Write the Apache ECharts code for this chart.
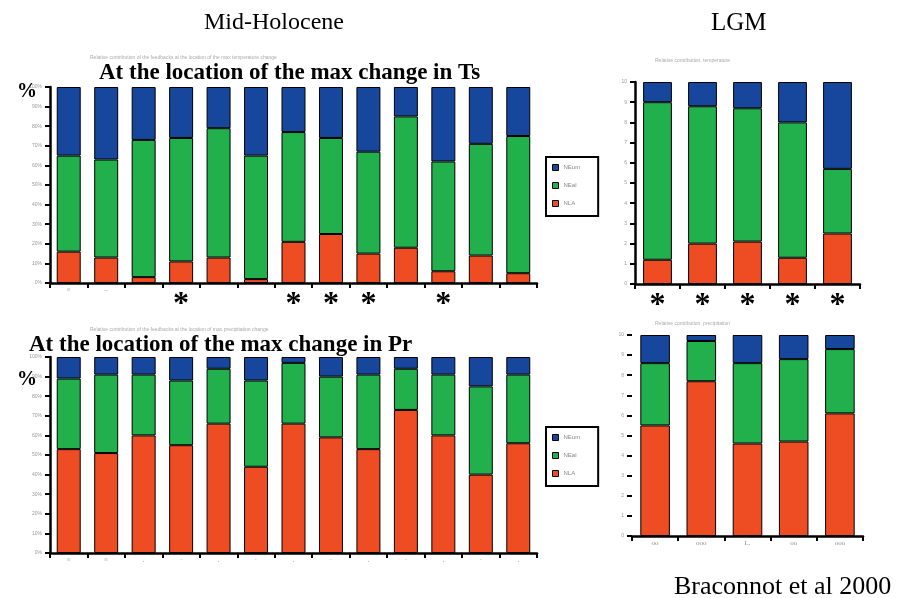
<!DOCTYPE html>
<html><head><meta charset="utf-8">
<script src="https://cdn.jsdelivr.net/npm/echarts@6/dist/echarts.min.js"></script>
<style>html,body{margin:0;padding:0;background:#fff}#c{width:912px;height:598px}</style>
</head><body><div id="c"></div>
<script>
// ---- data (percent contributions) ----
const seriesNames = ['NLA', 'NEal', 'NEum'];            // red (bottom), green, blue (top)
const tsLabels = ['\u2261', '\u2013', '', '', '', '', '', '', '', '', '', '', ''];
const prLabels = ['\u2261', '\u2261', '.', '\u00b7', '.', '\u00b7', '.', '\u00b7', '.', '\u00b7', '.', '\u00b7', '.'];
const tsRed   = [16, 13, 3, 11, 13, 2, 21, 25, 15, 18, 6, 14, 5];
const tsGreen = [49, 50, 70, 63, 66, 63, 56, 49, 52, 67, 56, 57, 70];
const tsBlue  = [35, 37, 27, 26, 21, 35, 23, 26, 33, 15, 38, 29, 25];
const tsStar  = [0, 0, 0, 1, 0, 0, 1, 1, 1, 0, 1, 0, 0];
const prRed   = [53, 51, 60, 55, 66, 44, 66, 59, 53, 73, 60, 40, 56];
const prGreen = [36, 40, 31, 33, 28, 44, 31, 31, 38, 21, 31, 45, 35];
const prBlue  = [11, 9, 9, 12, 6, 12, 3, 10, 9, 6, 9, 15, 9];
const prStar  = [0, 0, 0, 0, 0, 0, 0, 0, 0, 0, 0, 0, 0];
const lgmLabels = ['oo', 'ooo', 'I..', 'oo', 'ooo'];
const lgmTsRed   = [12, 20, 21, 13, 25];
const lgmTsGreen = [78, 68, 66, 67, 32];
const lgmTsBlue  = [10, 12, 13, 20, 43];
const lgmTsStar  = [1, 1, 1, 1, 1];
const lgmPrRed   = [55, 77, 46, 47, 61];
const lgmPrGreen = [31, 20, 40, 41, 32];
const lgmPrBlue  = [14, 3, 14, 12, 7];
const lgmPrStar  = [0, 0, 0, 0, 0];

const colors = ['#ee4c23', '#21b04b', '#16479c'];
const serif = '"Liberation Serif","DejaVu Serif",serif';

const chart = echarts.init(document.getElementById('c'), null, {renderer: 'canvas'});

const grids = [
  {left: 50, top: 87, width: 487, height: 196},
  {left: 50, top: 357, width: 487, height: 196},
  {left: 635, top: 82, width: 225, height: 202},
  {left: 632, top: 335, width: 231, height: 201}
];
const panelCats = [tsLabels, prLabels, lgmLabels, lgmLabels];
const panelStars = [tsStar, prStar, lgmTsStar, lgmPrStar];
const panelData = [
  [tsRed, tsGreen, tsBlue],
  [prRed, prGreen, prBlue],
  [lgmTsRed, lgmTsGreen, lgmTsBlue],
  [lgmPrRed, lgmPrGreen, lgmPrBlue]
];

const xAxis = panelCats.map((cats, i) => ({
  type: 'category', gridIndex: i, data: cats.map((c, k) => k),
  axisLine: {show: true, lineStyle: {color: '#000', width: 2.5}},
  axisTick: {show: true, alignWithLabel: false, length: 5, lineStyle: {color: '#000', width: 2}},
  axisLabel: {
    interval: 0, margin: 4,
    formatter: (v) => panelStars[i][v] ? '{s|*}' : '{t|' + cats[v] + '}',
    rich: {
      s: {fontSize: 32, fontFamily: serif, color: '#000', fontWeight: 'bold', lineHeight: 30, padding: [6, 0, 0, 0]},
      t: {fontSize: 7, color: '#888', fontFamily: serif}
    }
  }
}));

const yAxis = grids.map((g, i) => ({
  type: 'value', gridIndex: i, min: 0, max: 100, interval: 10,
  axisLine: {show: true, lineStyle: {color: '#000', width: i === 3 ? 0 : 2.5}},
  axisTick: {show: true, length: 5, lineStyle: {color: '#000', width: 2}},
  splitLine: {show: false},
  axisLabel: {fontSize: 5, color: '#999', margin: 8, formatter: (v) => i < 2 ? v + '%' : String(v / 10)}
}));

const series = [];
panelData.forEach((arrs, i) => {
  arrs.forEach((arr, k) => {
    series.push({
      type: 'bar', name: seriesNames[k], stack: 'p' + i,
      xAxisIndex: i, yAxisIndex: i, data: arr, barWidth: '64%',
      itemStyle: {color: colors[k], borderColor: '#000', borderWidth: 1},
      emphasis: {disabled: true}, animation: false
    });
  });
});

const legendCommon = {
  orient: 'vertical', data: ['NEum', 'NEal', 'NLA'], icon: 'rect',
  itemWidth: 6, itemHeight: 6, itemGap: 11, padding: [7, 18, 9, 6],
  borderColor: '#000', borderWidth: 2, backgroundColor: '#fff',
  textStyle: {fontSize: 6, color: '#888'}, selectedMode: false,
  itemStyle: {borderColor: '#000', borderWidth: 1}
};

const titles = [
  {text: 'Mid-Holocene', left: 199, top: 6, textStyle: {fontFamily: serif, fontSize: 24, fontWeight: 'normal', color: '#000'}},
  {text: 'LGM', left: 706, top: 6, textStyle: {fontFamily: serif, fontSize: 25, fontWeight: 'normal', color: '#000'}},
  {text: 'At the location of the max change in Ts', left: 94, top: 57, textStyle: {fontFamily: serif, fontSize: 23, fontWeight: 'bold', color: '#000'}},
  {text: 'At the location of the max change in Pr', left: 24, top: 329, textStyle: {fontFamily: serif, fontSize: 23, fontWeight: 'bold', color: '#000'}},
  {text: '%', left: 12, top: 77, textStyle: {fontFamily: serif, fontSize: 20, fontWeight: 'bold', color: '#000'}},
  {text: '%', left: 12, top: 365, textStyle: {fontFamily: serif, fontSize: 20, fontWeight: 'bold', color: '#000'}},
  {text: 'Braconnot et al 2000', left: 669, top: 569, textStyle: {fontFamily: serif, fontSize: 26, fontWeight: 'normal', color: '#000'}},
  {text: 'Relative contribution of the feedbacks at the location of the max temperature change', left: 85, top: 50, textStyle: {fontSize: 5, color: '#aaa', fontWeight: 'normal'}},
  {text: 'Relative contribution of the feedbacks at the location of max precipitation change', left: 85, top: 322, textStyle: {fontSize: 5, color: '#aaa', fontWeight: 'normal'}},
  {text: 'Relative contribution, temperature', left: 650, top: 53, textStyle: {fontSize: 5, color: '#aaa', fontWeight: 'normal'}},
  {text: 'Relative contribution, precipitation', left: 650, top: 316, textStyle: {fontSize: 5, color: '#aaa', fontWeight: 'normal'}}
];

chart.setOption({
  animation: false,
  backgroundColor: '#fff',
  title: titles,
  grid: grids,
  xAxis: xAxis,
  yAxis: yAxis,
  legend: [
    Object.assign({left: 546, top: 157}, legendCommon),
    Object.assign({left: 546, top: 427}, legendCommon)
  ],
  series: series
});
</script></body></html>
